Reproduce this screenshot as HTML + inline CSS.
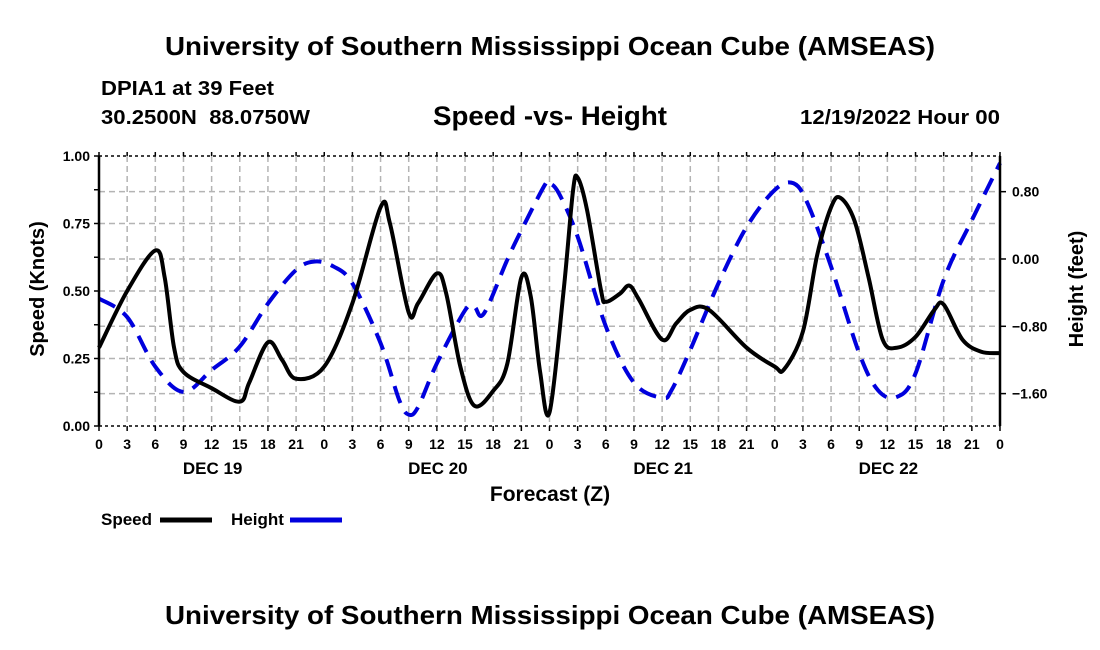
<!DOCTYPE html>
<html><head><meta charset="utf-8">
<style>
html,body{margin:0;padding:0;background:#fff;}
svg{display:block;font-family:"Liberation Sans",Arial,sans-serif;font-weight:bold;}
</style></head>
<body>
<svg id="chart" width="1100" height="650" viewBox="0 0 1100 650">
<text x="165" y="55" font-size="26" textLength="770" lengthAdjust="spacingAndGlyphs">University of Southern Mississippi Ocean Cube (AMSEAS)</text>
<text x="101" y="95" font-size="20" textLength="173" lengthAdjust="spacingAndGlyphs">DPIA1 at 39 Feet</text>
<text x="101" y="124" font-size="20" textLength="209" lengthAdjust="spacingAndGlyphs" xml:space="preserve">30.2500N  88.0750W</text>
<text x="433" y="125" font-size="27" textLength="234" lengthAdjust="spacingAndGlyphs">Speed -vs- Height</text>
<text x="800" y="124" font-size="20" textLength="200" lengthAdjust="spacingAndGlyphs">12/19/2022 Hour 00</text>
<g id="grid"></g>
<g id="series"></g>
<g id="axes"></g>
<text transform="translate(44,289) rotate(-90)" text-anchor="middle" font-size="20">Speed (Knots)</text>
<text transform="translate(1083,289) rotate(-90)" text-anchor="middle" font-size="20">Height (feet)</text>
<text x="550" y="501" text-anchor="middle" font-size="21">Forecast (Z)</text>
<g>
<text x="101" y="525" font-size="17">Speed</text>
<line x1="160" y1="520" x2="212" y2="520" stroke="#000" stroke-width="5"/>
</g>
<g>
<text x="231" y="525" font-size="17">Height</text>
<line x1="290" y1="520" x2="342" y2="520" stroke="#0000dd" stroke-width="5"/>
</g>
<text x="165" y="624" font-size="26" textLength="770" lengthAdjust="spacingAndGlyphs">University of Southern Mississippi Ocean Cube (AMSEAS)</text>
</svg>
<script>
const speedHours=[0,3,6,7,8,9,12,15,16,18,19.5,21,24,27,30,31,33,34,36,37,38.5,40,42,43.5,45,46,47,48,49.5,50.5,51,52,53.5,54,55.5,56.5,57.5,60,61.5,63,65,69,72,73,75,76.5,78,79,80.5,82,83.5,85,87,89,90,92,94,96];
const speedValues=[0.29,0.50,0.65,0.55,0.29,0.20,0.14,0.09,0.16,0.31,0.245,0.175,0.22,0.455,0.81,0.75,0.42,0.455,0.565,0.49,0.22,0.075,0.13,0.23,0.55,0.48,0.20,0.05,0.50,0.87,0.92,0.80,0.50,0.46,0.49,0.52,0.47,0.32,0.38,0.43,0.43,0.29,0.22,0.21,0.35,0.63,0.81,0.845,0.76,0.55,0.32,0.29,0.33,0.43,0.45,0.32,0.275,0.27];
const heightHours=[0,3,6,9,12,15,18,21,23,25,27,30,32,33,34,36,39,40,41,43.5,45,47.5,48,49,51,54,57,60,61,63,66,69,72,74,75.5,78,81,83,85,87,90,93,96];
const heightValues=[-0.47,-0.69,-1.28,-1.58,-1.32,-1.04,-0.53,-0.13,-0.03,-0.09,-0.29,-1.00,-1.68,-1.85,-1.76,-1.24,-0.61,-0.57,-0.65,-0.01,0.34,0.88,0.90,0.78,0.265,-0.80,-1.47,-1.65,-1.56,-1.08,-0.29,0.38,0.82,0.90,0.66,-0.09,-1.12,-1.56,-1.64,-1.36,-0.25,0.46,1.14];
const xTickLabels=["0","3","6","9","12","15","18","21"];
const dayLabels=["DEC 19","DEC 20","DEC 21","DEC 22"];
const speedTicks=[0,0.25,0.5,0.75,1.0];
const heightTicks=[-1.6,-0.8,0,0.8];

const L=99,R=1000,T=156,B=426;
const xS=h=>L+h*(R-L)/96;
const yS=v=>B-v*(B-T);
const hMin=-1.985,hMax=1.224;
const yH=v=>B-(v-hMin)/(hMax-hMin)*(B-T);
const NS="http://www.w3.org/2000/svg";
function mk(tag,attrs,parent){const e=document.createElementNS(NS,tag);for(const k in attrs)e.setAttribute(k,attrs[k]);parent.appendChild(e);return e;}
const grid=document.getElementById('grid'),axes=document.getElementById('axes'),series=document.getElementById('series');

for(let i=1;i<32;i++){
  const l=mk('line',{x1:xS(i*3),x2:xS(i*3),y1:T,y2:B,stroke:'#b4b4b4','stroke-width':1.5,'stroke-dasharray':'6,4'},grid);
  
  
}
speedTicks.slice(1,4).forEach(v=>{
  const l=mk('line',{x1:L,x2:R,y1:yS(v),y2:yS(v),stroke:'#b4b4b4','stroke-width':1.5,'stroke-dasharray':'6,4'},grid);
  
  
});
heightTicks.forEach(v=>{
  const l=mk('line',{x1:L,x2:R,y1:yH(v),y2:yH(v),stroke:'#b4b4b4','stroke-width':1.5,'stroke-dasharray':'6,4'},grid);
  
  
});

function smooth(xs,ys){
  const p=xs.map((h,i)=>[xS(h),ys[i]]);
  let d=`M${p[0][0]},${p[0][1]}`;
  for(let i=0;i<p.length-1;i++){
    const p0=p[Math.max(0,i-1)],p1=p[i],p2=p[i+1],p3=p[Math.min(p.length-1,i+2)];
    const c1=[p1[0]+(p2[0]-p0[0])/6,p1[1]+(p2[1]-p0[1])/6];
    const c2=[p2[0]-(p3[0]-p1[0])/6,p2[1]-(p3[1]-p1[1])/6];
    d+=` C${c1[0]},${c1[1]} ${c2[0]},${c2[1]} ${p2[0]},${p2[1]}`;
  }
  return d;
}
const hp=mk('path',{d:smooth(heightHours,heightValues.map(yH)),fill:'none',stroke:'#0000dd','stroke-width':4,'stroke-dasharray':'18,10'},series);


const sp=mk('path',{d:smooth(speedHours,speedValues.map(yS)),fill:'none',stroke:'#000','stroke-width':4,'stroke-linejoin':'round'},series);



mk('line',{x1:L,x2:L,y1:T,y2:B,stroke:'#000','stroke-width':2.5},axes);
mk('line',{x1:R,x2:R,y1:T,y2:B,stroke:'#000','stroke-width':2.5},axes);
mk('line',{x1:L,x2:R,y1:T,y2:T,stroke:'#000','stroke-width':1.5,'stroke-dasharray':'3,3'},axes);
mk('line',{x1:L,x2:R,y1:B,y2:B,stroke:'#000','stroke-width':1.5,'stroke-dasharray':'3,3'},axes);
for(let i=0;i<=32;i++){
  const x=xS(i*3);
  mk('line',{x1:x,x2:x,y1:B,y2:B+5,stroke:'#000','stroke-width':1.5},axes);
  mk('line',{x1:x,x2:x,y1:T,y2:T-4,stroke:'#000','stroke-width':1.5},axes);
  const t=mk('text',{x:x,y:B+23,'text-anchor':'middle','font-size':14},axes);
  t.textContent=xTickLabels[i%8];
  
  
}
dayLabels.forEach((d,i)=>{
  const t=mk('text',{x:xS(12+24*i)+1,y:B+48,'text-anchor':'middle','font-size':17},axes);
  t.textContent=d;
  
  
});
for(let v=0;v<=1.0001;v+=0.125){
  mk('line',{x1:L-5,x2:L,y1:yS(v),y2:yS(v),stroke:'#000','stroke-width':1.5},axes);
}
speedTicks.forEach(v=>{
  const t=mk('text',{x:L-9,y:yS(v)+5,'text-anchor':'end','font-size':14},axes);
  t.textContent=v.toFixed(2);
  
  
});
heightTicks.forEach(v=>{
  mk('line',{x1:R,x2:R+6,y1:yH(v),y2:yH(v),stroke:'#000','stroke-width':1.5},axes);
  const t=mk('text',{x:R+12,y:yH(v)+5,'text-anchor':'start','font-size':14},axes);
  t.textContent=(v<0?'\u2212':'')+Math.abs(v).toFixed(2);
  
  
});
</script>
</body></html>
